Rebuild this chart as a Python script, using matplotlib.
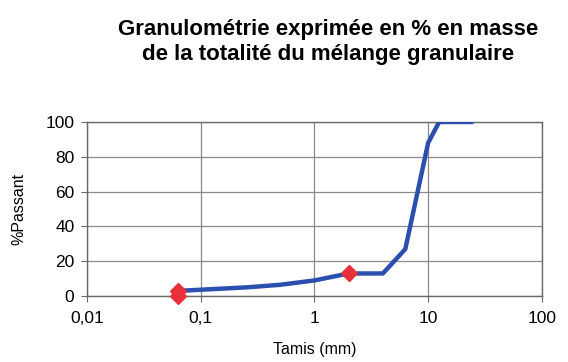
import matplotlib
matplotlib.use("Agg")
import matplotlib.pyplot as plt
from matplotlib.ticker import FixedLocator, FixedFormatter

plt.rcParams['font.family'] = ['Liberation Sans', 'DejaVu Sans']

# courbe granulométrique (tamis en mm, % passant)
tamis = [0.063, 0.125, 0.25, 0.5, 1, 2, 4, 6.3, 10, 12.5, 16, 20, 25]
passant = [3, 4, 5, 6.5, 9, 13, 13, 27, 88, 100, 100, 100, 100]

# points rouges
pts_x = [0.063, 0.063, 2]
pts_y = [3, 0, 13]

x_ticks = [0.01, 0.1, 1, 10, 100]
x_labels = ["0,01", "0,1", "1", "10", "100"]
y_ticks = [0, 20, 40, 60, 80, 100]

fig = plt.figure(figsize=(5.68, 3.62), dpi=100)
ax = fig.add_axes([0.153, 0.182, 0.801, 0.481])

ax.plot(tamis, passant, color='#2b4fae', lw=3.2, solid_capstyle='butt', zorder=3)
ax.plot(pts_x, pts_y, linestyle='none', marker='D', ms=8, color='#e8303a',
        zorder=4, clip_on=False)

ax.set_xscale('log')
ax.set_xlim(0.01, 100)
ax.set_ylim(0, 100)
ax.xaxis.set_major_locator(FixedLocator(x_ticks))
ax.xaxis.set_major_formatter(FixedFormatter(x_labels))
ax.xaxis.set_minor_locator(FixedLocator([]))
ax.set_yticks(y_ticks)

ax.grid(True, color='#8a8a8a', lw=0.9)
ax.set_axisbelow(True)
for s in ax.spines.values():
    s.set_color('#6a6a6a')
    s.set_linewidth(1.0)
ax.tick_params(axis='both', labelsize=12.5, color='#6a6a6a', length=4, pad=5)
ax.tick_params(axis='x', pad=7)

ax.set_xlabel("Tamis (mm)", fontsize=11.5, labelpad=11)
ax.set_ylabel("%Passant", fontsize=11.5, labelpad=14)

fig.text(0.578, 0.884, "Granulométrie exprimée en % en masse\nde la totalité du mélange granulaire",
         ha='center', va='center', fontsize=16, fontweight='bold', linespacing=1.3)

fig.savefig("out.png", dpi=100, facecolor='white')
